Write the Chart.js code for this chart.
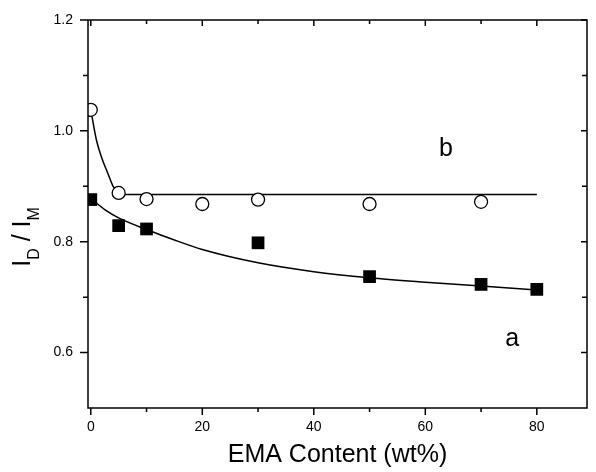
<!DOCTYPE html>
<html>
<head>
<meta charset="utf-8">
<script src="https://cdn.jsdelivr.net/npm/chart.js@4/dist/chart.umd.min.js"></script>
<style>
  html, body { margin: 0; padding: 0; background: #fff; }
  #wrap { width: 596px; height: 472px; }
</style>
</head>
<body>
<div id="wrap"><canvas id="myGrafic" width="596" height="472"></canvas></div>
<script>
Chart.defaults.font.family = "Arial, 'Liberation Sans', sans-serif";
Chart.defaults.font.size = 14;
Chart.defaults.color = '#000';

// measured points
const emaA = [0, 5, 10, 30, 50, 70, 80];
const ratioA = [0.876, 0.829, 0.823, 0.798, 0.737, 0.723, 0.714];
const emaB = [0, 5, 10, 20, 30, 50, 70];
const ratioB = [1.038, 0.888, 0.877, 0.868, 0.876, 0.868, 0.872];

// fitted curves
const fitAx = [0, 2.5, 5, 10, 15, 20, 30, 40, 50, 60, 70, 80];
const fitAy = [0.878, 0.858, 0.843, 0.822, 0.803, 0.786, 0.762, 0.746, 0.735, 0.727, 0.720, 0.713];
const fitBx = [0, 1, 2, 3, 4, 5, 6, 10, 80];
const fitBy = [1.038, 0.984, 0.950, 0.925, 0.900, 0.888, 0.885, 0.885, 0.885];

const xTicks = [0, 20, 40, 60, 80];
const yTicks = [0.6, 0.8, 1.0, 1.2];
const xMinor = [10, 30, 50, 70];
const yMinor = [0.7, 0.9, 1.1];

const pts = (xs, ys) => xs.map((x, i) => ({ x: x, y: ys[i] }));

// frame, tick marks, curve labels and the y title
const frame = {
  id: 'frame',
  afterDraw(chart) {
    const ctx = chart.ctx;
    const { left, right, top, bottom } = chart.chartArea;
    const xs = chart.scales.x, ys = chart.scales.y;
    ctx.save();
    ctx.strokeStyle = '#000';
    ctx.lineWidth = 1.5;
    ctx.strokeRect(left, top, right - left, bottom - top);
    ctx.beginPath();
    xTicks.forEach(v => {
      const p = xs.getPixelForValue(v);
      ctx.moveTo(p, bottom); ctx.lineTo(p, bottom + 7);
      ctx.moveTo(p, top); ctx.lineTo(p, top + 6);
    });
    xMinor.forEach(v => {
      const p = xs.getPixelForValue(v);
      ctx.moveTo(p, bottom); ctx.lineTo(p, bottom + 4);
      ctx.moveTo(p, top); ctx.lineTo(p, top + 4);
    });
    yTicks.forEach(v => {
      const p = ys.getPixelForValue(v);
      ctx.moveTo(left, p); ctx.lineTo(left - 8, p);
      ctx.moveTo(right, p); ctx.lineTo(right - 6, p);
    });
    yMinor.forEach(v => {
      const p = ys.getPixelForValue(v);
      ctx.moveTo(left, p); ctx.lineTo(left - 5, p);
      ctx.moveTo(right, p); ctx.lineTo(right - 5, p);
    });
    ctx.stroke();

    ctx.fillStyle = '#000';
    ctx.font = "25px Arial, 'Liberation Sans', sans-serif";
    ctx.textAlign = 'center';
    ctx.textBaseline = 'alphabetic';
    ctx.fillText('b', xs.getPixelForValue(63.7), ys.getPixelForValue(0.955));
    ctx.fillText('a', xs.getPixelForValue(75.6), ys.getPixelForValue(0.611));

    // I_D / I_M rotated
    ctx.translate(30, 237);
    ctx.rotate(-Math.PI / 2);
    const big = "25px Arial, 'Liberation Sans', sans-serif";
    const small = "16px Arial, 'Liberation Sans', sans-serif";
    const parts = [['I', big, 0], ['D', small, 9], [' / ', big, 0], ['I', big, 0], ['M', small, 9]];
    let w = 0;
    parts.forEach(p => { ctx.font = p[1]; w += ctx.measureText(p[0]).width; });
    let cx = -w / 2;
    ctx.textAlign = 'left';
    parts.forEach(p => {
      ctx.font = p[1];
      ctx.fillText(p[0], cx, p[2]);
      cx += ctx.measureText(p[0]).width;
    });
    ctx.restore();
  }
};

const mainGrafic = document.getElementById('myGrafic');
const chart = new Chart(mainGrafic, {
  type: 'scatter',
  data: {
    datasets: [{
      data: pts(fitAx, fitAy),
      showLine: true,
      borderColor: '#000',
      borderWidth: 1.5,
      pointRadius: 0,
      cubicInterpolationMode: 'monotone',
      order: 3,
    }, {
      data: pts(fitBx, fitBy),
      showLine: true,
      borderColor: '#000',
      borderWidth: 1.5,
      pointRadius: 0,
      cubicInterpolationMode: 'monotone',
      order: 4,
    }, {
      data: pts(emaA, ratioA),
      pointStyle: 'rect',
      pointRadius: 9,
      backgroundColor: '#000',
      borderColor: '#000',
      borderWidth: 0,
      order: 1,
    }, {
      data: pts(emaB, ratioB),
      pointStyle: 'circle',
      pointRadius: 6.5,
      backgroundColor: '#fff',
      borderColor: '#000',
      borderWidth: 1.3,
      order: 2,
    }]
  },
  options: {
    responsive: false,
    animation: false,
    layout: { padding: { top: 20, right: 5, left: 0, bottom: 0 } },
    scales: {
      x: {
        type: 'linear',
        min: -0.5,
        max: 89,
        afterBuildTicks: s => { s.ticks = xTicks.map(v => ({ value: v })); },
        afterFit: s => { s.height = 64; s.paddingLeft = 0; s.paddingRight = 0; },
        grid: { display: false, drawTicks: false },
        border: { display: false },
        ticks: { padding: 11, font: { size: 14 }, callback: v => String(v) },
        title: {
          display: true,
          text: 'EMA Content (wt%)',
          font: { size: 25 },
          padding: { top: 0, bottom: 2 },
        },
      },
      y: {
        type: 'linear',
        min: 0.5,
        max: 1.2,
        afterBuildTicks: s => { s.ticks = yTicks.map(v => ({ value: v })); },
        afterFit: s => { s.width = 88; s.paddingTop = 0; s.paddingBottom = 0; },
        grid: { display: false, drawTicks: false },
        border: { display: false },
        ticks: { padding: 15, font: { size: 14 }, callback: v => v.toFixed(1) },
      },
    },
    plugins: {
      legend: { display: false },
      tooltip: { enabled: false },
    }
  },
  plugins: [frame]
});
</script>
</body>
</html>
